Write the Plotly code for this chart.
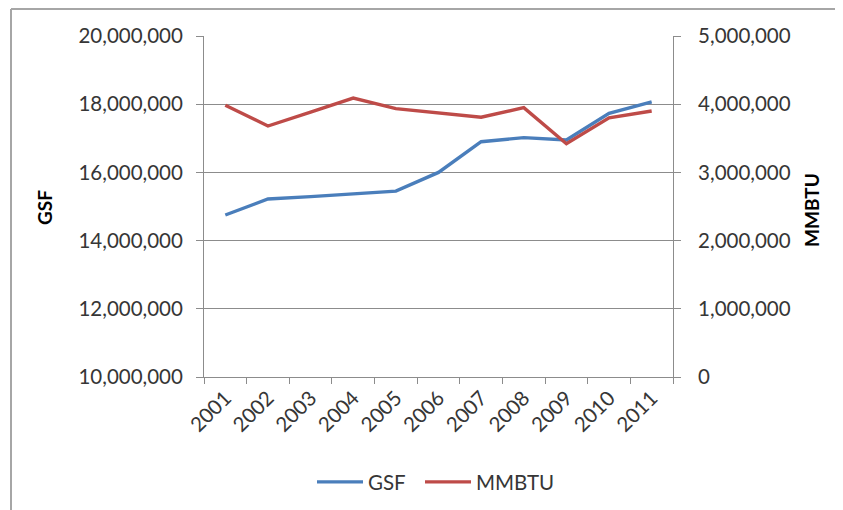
import plotly.graph_objects as go

years = ["2001", "2002", "2003", "2004", "2005", "2006", "2007", "2008", "2009", "2010", "2011"]
gsf = [14750000, 15220000, 15290000, 15370000, 15450000, 16000000, 16900000, 17020000, 16950000, 17730000, 18070000]
mmbtu = [3985000, 3680000, 3885000, 4090000, 3935000, 3870000, 3810000, 3950000, 3420000, 3800000, 3900000]

OFF = 8  # page body margin
W, H = 843 - OFF, 510 - OFF
L, R, T, B = 204 - OFF, 673 - OFF, 36 - OFF, 377 - OFF

fig = go.Figure()
fig.add_trace(go.Scatter(x=years, y=gsf, name="GSF", mode="lines", legend="legend",
                         line=dict(color="#4A7EBB", width=3.4)))
fig.add_trace(go.Scatter(x=years, y=mmbtu, name="MMBTU", mode="lines", yaxis="y2", legend="legend2",
                         line=dict(color="#BE4B48", width=3.4)))

font = "Lato, 'Open Sans', sans-serif"
gridc = "#8c8c8c"
txtc = "#363636"
fs = 20.5

def px_x(p):
    return (p - OFF - L) / (R - L)

def px_y(p):
    return (B - (p - OFF)) / (B - T)

leg_common = dict(orientation="h", xanchor="left", y=px_y(482), yanchor="middle",
                  font=dict(size=fs, color=txtc), itemwidth=46, bgcolor="rgba(0,0,0,0)")

fig.update_layout(
    width=W, height=H,
    margin=dict(l=L, r=W - R, t=T, b=H - B, autoexpand=False),
    paper_bgcolor="white", plot_bgcolor="white",
    font=dict(family=font, size=fs, color=txtc),
    showlegend=True,
    legend=dict(x=px_x(312), **leg_common),
    legend2=dict(x=px_x(420), **leg_common),
    xaxis=dict(type="category", range=[-0.5, 10.5], tickson="boundaries",
               ticks="outside", ticklen=6, tickcolor=gridc, showline=True, linecolor=gridc,
               linewidth=1, showgrid=False, tickangle=-45, tickfont=dict(size=fs, color=txtc),
               automargin=False),
    yaxis=dict(range=[10000000, 20000000], dtick=2000000, tickformat=",",
               ticks="outside", ticklen=7, tickcolor=gridc, showline=True, linecolor=gridc,
               showgrid=True, gridcolor=gridc, gridwidth=1, zeroline=False,
               tickfont=dict(size=fs, color=txtc), automargin=False, ticklabelstandoff=9),
    yaxis2=dict(range=[0, 5000000], dtick=1000000, tickformat=",", overlaying="y", side="right",
                ticks="outside", ticklen=7, tickcolor=gridc, showline=True, linecolor=gridc,
                showgrid=False, zeroline=False, tickfont=dict(size=fs, color=txtc),
                automargin=False, ticklabelstandoff=13),
    annotations=[
        dict(text="<b>GSF</b>", xref="paper", yref="paper", x=px_x(44), y=px_y(208),
             showarrow=False, textangle=-90, font=dict(size=19, color="#000000", family=font),
             xanchor="center", yanchor="middle"),
        dict(text="<b>MMBTU</b>", xref="paper", yref="paper", x=px_x(811), y=px_y(210),
             showarrow=False, textangle=-90, font=dict(size=19, color="#000000", family=font),
             xanchor="center", yanchor="middle"),
    ],
    shapes=[
        dict(type="line", xref="paper", yref="paper", x0=px_x(11), x1=px_x(11),
             y0=px_y(520), y1=px_y(9), line=dict(color="#a6a6a6", width=2)),
        dict(type="line", xref="paper", yref="paper", x0=px_x(11), x1=px_x(850),
             y0=px_y(9), y1=px_y(9), line=dict(color="#a6a6a6", width=2)),
    ],
)

fig.write_html("out.html")
